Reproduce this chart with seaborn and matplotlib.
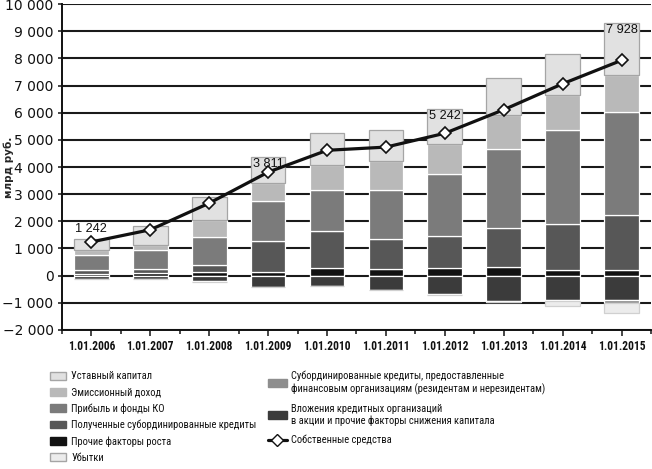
import numpy as np
import seaborn as sns
import matplotlib.pyplot as plt
from matplotlib import font_manager
from matplotlib.patches import Patch
from matplotlib.lines import Line2D

# values in bln rub
dates = ['1.01.2006', '1.01.2007', '1.01.2008', '1.01.2009', '1.01.2010',
         '1.01.2011', '1.01.2012', '1.01.2013', '1.01.2014', '1.01.2015']

# positive factors, bottom to top
prochie = [70, 80, 130, 120, 280, 250, 290, 310, 200, 200]
sub_poluch = [150, 170, 250, 1155, 1350, 1110, 1170, 1440, 1715, 2020]
pribyl = [530, 705, 1040, 1460, 1535, 1805, 2295, 2925, 3435, 3800]
emiss = [180, 160, 615, 675, 895, 1055, 1105, 1225, 1285, 1380]
ustavny = [430, 725, 855, 955, 1190, 1150, 1285, 1390, 1535, 1910]

# negative factors, top to bottom
vlozheniya = [-120, -130, -210, -420, -380, -510, -690, -940, -900, -880]
sub_pred = [-10, -10, -15, -15, -15, -15, -20, -30, -40, -130]
ubytki = [0, 0, 0, 0, 0, 0, 0, 0, -170, -370]

own_funds = [1242, 1690, 2670, 3811, 4615, 4733, 5242, 6110, 7065, 7928]
labelled = [0, 3, 6, 9]

sns.set_style('white')
plt.rcParams['font.family'] = ['DejaVu Sans']

# pick a condensed face if one is installed
avail = {f.name for f in font_manager.fontManager.ttflist}
cond = [f for f in ['Liberation Sans Narrow', 'Roboto Condensed', 'Open Sans Condensed',
                    'Noto Sans Condensed', 'DejaVu Sans Condensed'] if f in avail]
if cond:
    narrow = [cond[0], 'DejaVu Sans']
    leg_size = 7.6
else:
    narrow = ['Liberation Sans', 'DejaVu Sans']
    leg_size = 7.0

fig = plt.figure(figsize=(6.52, 4.69), dpi=100)
ax = fig.add_axes([0.095, 0.2964, 0.9035, 0.695])
x = np.arange(len(dates))
w = 0.59

pos_series = [
    ('Прочие факторы роста', prochie, '#121212', 'white'),
    ('Полученные субординированные кредиты', sub_poluch, '#575757', 'white'),
    ('Прибыль и фонды КО', pribyl, '#7b7b7b', 'white'),
    ('Эмиссионный доход', emiss, '#b9b9b9', 'white'),
    ('Уставный капитал', ustavny, '#e1e1e1', '#a5a5a5'),
]
neg_series = [
    ('Вложения кредитных организаций\nв акции и прочие факторы снижения капитала',
     vlozheniya, '#3b3b3b', 'white'),
    ('Субординированные кредиты, предоставленные\nфинансовым организациям (резидентам и нерезидентам)',
     sub_pred, '#8e8e8e', 'white'),
    ('Убытки', ubytki, '#ececec', '#d0d0d0'),
]

bottom = np.zeros(len(dates))
for name, vals, col, ec in pos_series:
    ax.bar(x, vals, width=w, bottom=bottom, color=col, edgecolor=ec, linewidth=0.9, zorder=2)
    bottom += np.array(vals)

bottom = np.zeros(len(dates))
for name, vals, col, ec in neg_series:
    ax.bar(x, vals, width=w, bottom=bottom, color=col, edgecolor=ec, linewidth=0.9, zorder=2)
    bottom += np.array(vals)

sns.lineplot(x=x, y=own_funds, ax=ax, color='#111111', linewidth=2.3, marker='D',
             markersize=6, markerfacecolor='white', markeredgecolor='#111111',
             markeredgewidth=1.2, legend=False, zorder=5)

def fmt(v):
    return f"{v:,}".replace(',', ' ').replace('-', '\u2212')

label_offset = [490, 310, 620, 1100]
for i, off in zip(labelled, label_offset):
    ax.text(x[i], own_funds[i] + off, fmt(own_funds[i]), ha='center', va='center',
            fontsize=9.2, family=['Liberation Sans', 'DejaVu Sans'], color='#111111', zorder=6)

ax.set_xlim(-0.5, 9.5)
ax.set_ylim(-2000, 10000)
yt = list(range(-2000, 10001, 1000))
ax.set_yticks(yt)
ax.set_yticklabels([fmt(v) for v in yt], fontsize=10, color='#111111')
ax.grid(axis='y', color='#1a1a1a', linewidth=1.5)
ax.set_axisbelow(True)

ax.set_xticks(x)
ax.set_xticklabels(dates, fontsize=8.3, fontweight='bold', family=narrow, color='#111111')
ax.set_xticks(np.arange(-0.5, 10, 1), minor=True)
ax.tick_params(axis='x', which='major', direction='out', length=4, width=1.2, pad=3, bottom=True)
ax.tick_params(axis='x', which='minor', direction='out', length=3, width=1.2, bottom=True)
ax.tick_params(axis='y', direction='out', length=3, width=1.2, left=True, pad=3)

for s in ['top', 'right']:
    ax.spines[s].set_visible(False)
for s in ['left', 'bottom']:
    ax.spines[s].set_color('#111111')
    ax.spines[s].set_linewidth(1.4)

ax.set_ylabel('млрд руб.', fontsize=7.5, fontweight='bold')
ax.yaxis.set_label_coords(-0.081, 0.5)

# legends: two separate columns under the chart
left_h = [Patch(facecolor=c, edgecolor=('#a5a5a5' if c in ('#e1e1e1', '#ececec') else c), label=n)
          for n, v, c, e in [pos_series[4], pos_series[3], pos_series[2], pos_series[1],
                             pos_series[0], neg_series[2]]]
right_h = [Patch(facecolor=neg_series[1][2], edgecolor=neg_series[1][2], label=neg_series[1][0]),
           Patch(facecolor=neg_series[0][2], edgecolor=neg_series[0][2], label=neg_series[0][0]),
           Line2D([], [], color='#111111', lw=2.3, marker='D', markersize=6,
                  markerfacecolor='white', markeredgecolor='#111111', label='Собственные средства')]

prop = dict(family=narrow, size=leg_size)
fig.legend(handles=left_h, loc='upper left', bbox_to_anchor=(0.077, 0.208), frameon=False,
           prop=prop, handlelength=1.5, handleheight=0.75, labelspacing=0.56,
           handletextpad=0.5, borderpad=0, borderaxespad=0, labelcolor='#111111')
fig.legend(handles=right_h, loc='upper left', bbox_to_anchor=(0.411, 0.209), frameon=False,
           prop=prop, handlelength=1.8, handleheight=0.75, labelspacing=0.85,
           handletextpad=0.4, borderpad=0, borderaxespad=0, labelcolor='#111111')

fig.savefig('out.png', dpi=100)
